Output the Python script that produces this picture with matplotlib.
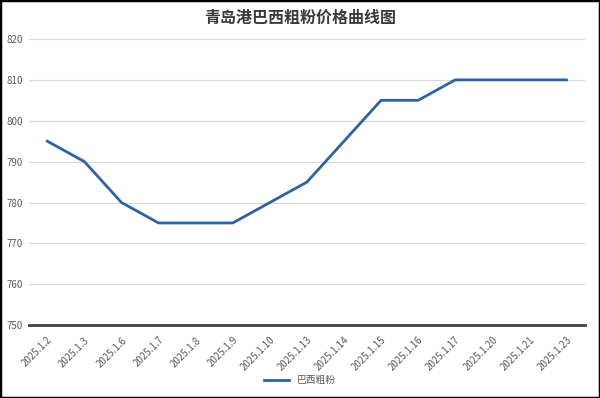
import matplotlib.pyplot as plt
from matplotlib.patches import Rectangle

plt.rcParams['font.family'] = ['Noto Sans CJK SC', 'DejaVu Sans']

dates = ["2025.1.2", "2025.1.3", "2025.1.6", "2025.1.7", "2025.1.8", "2025.1.9",
         "2025.1.10", "2025.1.13", "2025.1.14", "2025.1.15", "2025.1.16",
         "2025.1.17", "2025.1.20", "2025.1.21", "2025.1.23"]
prices = [795, 790, 780, 775, 775, 775, 780, 785, 795, 805, 805, 810, 810, 810, 810]
series_name = "巴西粗粉"
title = "青岛港巴西粗粉价格曲线图"

fig = plt.figure(figsize=(6, 3.98), dpi=100)
ax = fig.add_axes([0.048, 0.183, 0.927, 0.719])

x = range(len(dates))
ax.plot(x, prices, color="#2f62a3", linewidth=2, label=series_name)

ax.set_xlim(-0.5, len(dates) - 0.5)
ax.set_ylim(750, 820)
ax.set_yticks(range(750, 821, 10))
ax.set_xticks(list(x))
ax.set_xticklabels(dates, rotation=45, ha="right", rotation_mode="anchor",
                   fontsize=7, color="#595959")
ax.tick_params(axis="y", labelsize=7, labelcolor="#595959", length=0, pad=4)
ax.tick_params(axis="x", length=0, pad=7)

ax.grid(axis="y", color="#d9d9d9", linewidth=0.8)
ax.set_axisbelow(True)
for s in ["top", "right", "left"]:
    ax.spines[s].set_visible(False)
ax.spines["bottom"].set_color("#404040")
ax.spines["bottom"].set_linewidth(2)

fig.text(0.5, 0.955, title, ha="center", va="center", fontsize=11.5,
         color="#3a3a3a", fontweight="bold")

fig.legend(loc="center", bbox_to_anchor=(0.5, 0.045), frameon=False,
           fontsize=7, labelcolor="#595959", handlelength=2.5)

fig.patches.append(Rectangle((0, 0), 1, 1, transform=fig.transFigure,
                             fill=False, edgecolor="black", linewidth=2.5))

fig.savefig("out.png", dpi=100)
